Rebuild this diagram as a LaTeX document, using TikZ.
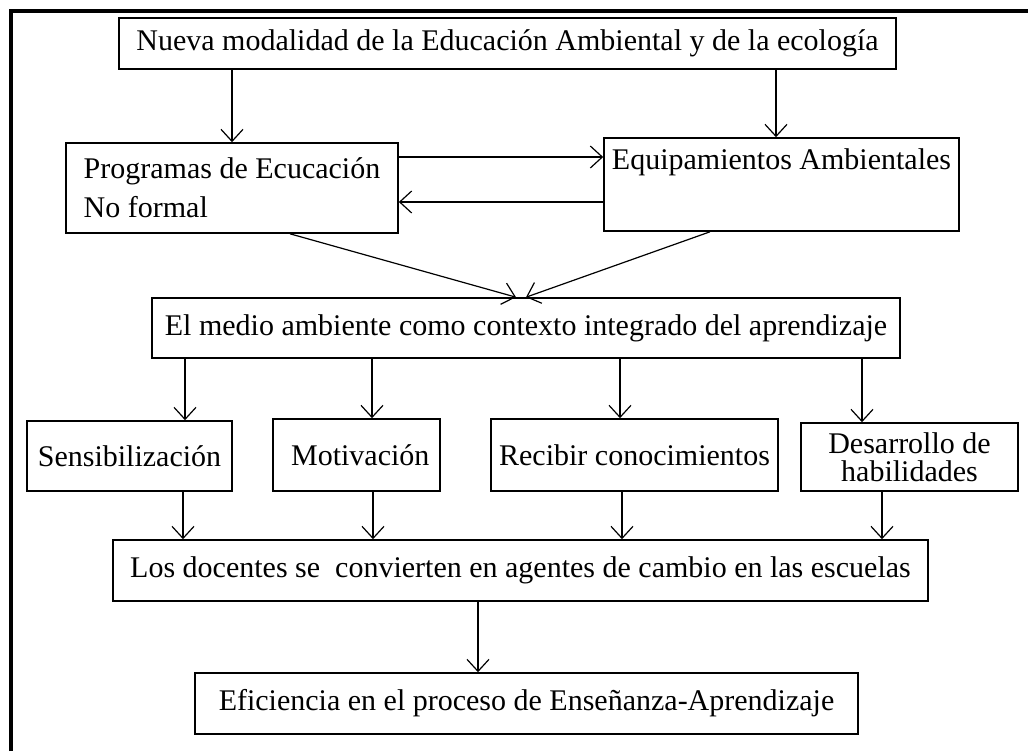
\documentclass[tikz,border=0pt]{standalone}
\usepackage{fontspec}
\setmainfont{Liberation Serif}
\usetikzlibrary{arrows.meta}
\usetikzlibrary{positioning}

\begin{document}
\begin{tikzpicture}[x=0.5pt, y=-0.5pt,
	box/.style={draw, line width=0.8pt, inner sep=0pt, font=\fontsize{15}{17}\selectfont},
	arr/.style={-{Straight Barb[length=6pt, width=11pt]}, line width=0.6pt},
	frame/.style={line width=1.6pt}] % education flow chart
	
	\useasboundingbox (0,0) rectangle (1028,751);
	
	%frame
	\draw[frame] (11,751) -- (11,11) -- (1028,11);
	
	%boxes
	\node[box, minimum width=388.5pt, minimum height=25.5pt] (nueva) at (507.5,43.5) {Nueva modalidad de la Educación Ambiental y de la ecología};
	\node[box, minimum width=166pt, minimum height=45pt, align=left, font=\fontsize{15}{19.5}\selectfont] (prog) at (232,188) {Programas de Ecucación\\No formal};
	\node[box, minimum width=177.5pt, minimum height=46.5pt, align=center, font=\fontsize{15}{19.5}\selectfont] (equip) at (781.5,184.5) {Equipamientos Ambientales\\ \strut};
	\node[box, minimum width=374pt, minimum height=30pt] (medio) at (526,328) {El medio ambiente como contexto integrado del aprendizaje};
	
	\node[box, minimum width=102.5pt, minimum height=35pt] (sens) at (129.5,456) {Sensibilización};
	\node[box, minimum width=83.5pt, minimum height=36pt] (motiv) at (356.5,455) {\ Motivación};
	\node[box, minimum width=143.5pt, minimum height=36pt] (recib) at (634.5,455) {Recibir conocimientos};
	\node[box, minimum width=108.5pt, minimum height=34pt, align=center, font=\fontsize{15}{14}\selectfont] (desa) at (909.5,457) {Desarrollo de\\habilidades};
	
	\node[box, minimum width=407.5pt, minimum height=30.5pt] (docentes) at (520.5,570.5) {Los docentes se \ convierten en agentes de cambio en las escuelas};
	\node[box, minimum width=331.5pt, minimum height=30.5pt] (efic) at (526.5,703.5) {Eficiencia en el proceso de Enseñanza-Aprendizaje};
	
	%arrows
	\draw[arr] (nueva.south -| prog.north) -- (prog.north);
	\coordinate (eq-in) at ([xshift=-2.75pt]equip.north);
	\draw[arr] (nueva.south -| eq-in) -- (eq-in);
	
	\coordinate (pe) at ([yshift=15.5pt]prog.east);
	\coordinate (ep) at ([yshift=-7pt]prog.east);
	\draw[arr] (pe) -- (pe -| equip.west);
	\draw[arr] (ep -| equip.west) -- (ep);
	
	\draw[arr] ([xshift=29pt]prog.south) -- ([xshift=-5pt]medio.north);
	\draw[arr] ([xshift=-35.75pt]equip.south) -- (medio.north);
	
	\foreach \n/\a/\b in {sens/27.75pt/26.75pt, motiv/7.75pt/8.25pt, recib/-7.25pt/-6.25pt, desa/-23.75pt/-13.75pt}{
		\coordinate (\n-in) at ([xshift=\a]\n.north);
		\coordinate (\n-out) at ([xshift=\b]\n.south);
		\draw[arr] (medio.south -| \n-in) -- (\n-in);
		\draw[arr] (\n-out) -- (\n-out |- docentes.north);
	}
	
	\coordinate (ef-in) at ([xshift=-24.25pt]efic.north);
	\draw[arr] (docentes.south -| ef-in) -- (ef-in);
	
\end{tikzpicture}
\end{document}
